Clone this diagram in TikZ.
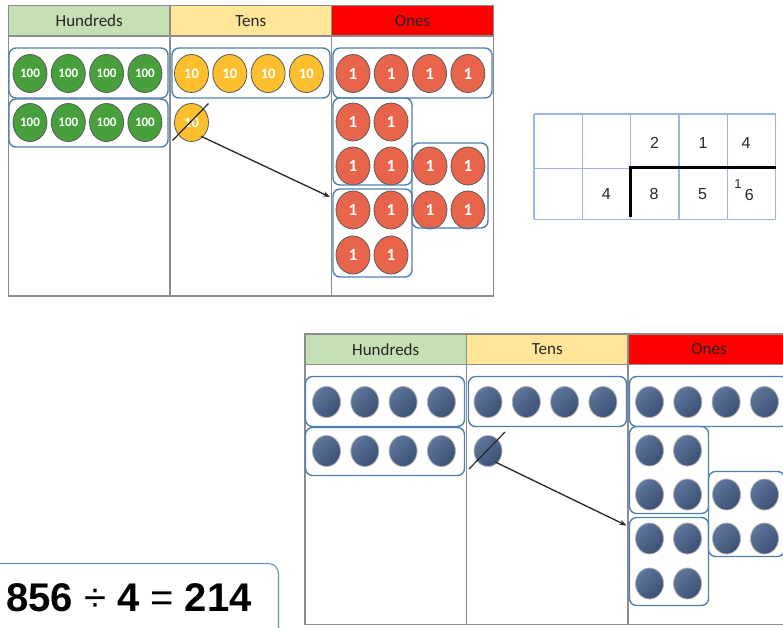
\documentclass[tikz,border=0pt]{standalone}
\usepackage{fontspec}
\setmainfont{Carlito}
\newfontfamily\digitfont{Liberation Sans}
\usetikzlibrary{shapes.geometric,arrows.meta}

\definecolor{headgreen}{HTML}{C5E0B4}
\definecolor{headyellow}{HTML}{FFE699}
\definecolor{headred}{HTML}{FF0000}
\definecolor{coingreen}{HTML}{47A03C}
\definecolor{coinyellow}{HTML}{FDBF2D}
\definecolor{coinred}{HTML}{E8654C}
\definecolor{disclight}{HTML}{5E769C}
\definecolor{discdark}{HTML}{3B5074}
\definecolor{groupblue}{HTML}{4F7FAF}
\definecolor{gridblue}{HTML}{9DB5E3}

\tikzset{
  chartrule/.style={draw=black!45, line width=1.2pt},
  headcell/.style={draw=black!45, line width=1.2pt, minimum width=161.5pt,
    minimum height=30.5pt, inner sep=0pt, text=black!85, font=\fontsize{17}{18}\selectfont},
  grpbox/.style={draw=groupblue, line width=1.4pt, rounded corners=7pt},
  coin/.style={ellipse, draw=black!65, line width=0.8pt, inner sep=0pt,
    minimum width=34pt, minimum height=38pt, text=white},
  disc/.style={ellipse, draw=black!30, line width=0.8pt, inner sep=0pt,
    minimum width=28pt, minimum height=31pt, top color=disclight,
    bottom color=discdark, shading angle=45, node contents={}},
  h100/.style={coin, fill=coingreen, font=\bfseries\fontsize{13}{13}\selectfont, node contents=100},
  t10/.style={coin, fill=coinyellow, font=\bfseries\fontsize{14.5}{14}\selectfont, node contents=10},
  o1/.style={coin, fill=coinred, font=\bfseries\fontsize{17}{17}\selectfont, node contents=1},
  strike/.style={line width=1.2pt, black!85},
  move/.style={line width=1.3pt, black!85, -{Stealth[length=7pt,width=5pt]}},
  gridline/.style={draw=gridblue, line width=1.3pt},
  numtext/.style={inner sep=0pt, font=\digitfont\fontsize{16}{16}\selectfont, text=black!85},
}

% one place value chart: 856 shared into 4 equal groups
\newcommand{\pvchart}[1]{%
  \foreach \name/\col/\x [count=\c] in {Hundreds/headgreen/89.25, Tens/headyellow/250.75, Ones/headred/412.5}
    \node[headcell, fill=\col] (#1head\c) at (\x,20.75) {\name};
  \draw[chartrule] (8.5,5.5) rectangle (493.5,296);
  \foreach \x in {170,331.5} \draw[chartrule] (\x,36) -- (\x,296);
  % counters
  \foreach \x [count=\i] in {30,68.3,106.6,144.9} {
    \node (#1ha\i) at (\x,73.5) [h100];
    \node (#1hb\i) at (\x,122.5) [h100];
    \node (#1ta\i) at (\x+161.5,73.5) [t10];
    \node (#1oa\i) at (\x+323,73.5) [o1];
  }
  \node (#1tx) at (191.5,122.5) [t10];
  \foreach \x/\y [count=\k] in {353/122,391/122,353/166,391/166,
      430/166,468/166,430/210,468/210,
      353/210,391/210,353/255,391/255}
    \node (#1ob\k) at (\x,\y) [o1];
  % groups of four
  \draw[grpbox] (9,48) rectangle (168,98);
  \draw[grpbox] (9,99) rectangle (168,147);
  \draw[grpbox] (172,48) rectangle (330,98);
  \draw[grpbox] (333,48) rectangle (492,98);
  \draw[grpbox] (333,98) rectangle (412,185);
  \draw[grpbox] (412,143) rectangle (488,228);
  \draw[grpbox] (333,189) rectangle (412,277);
  % exchange one ten for ten ones
  \draw[strike] ([shift={(-19,18)}]#1tx.center) -- ([shift={(17,-19)}]#1tx.center);
  \coordinate (#1into) at (330,197);
  \draw[move, shorten <=-2pt] (#1tx.-52) -- (#1into);
}

\begin{document}
\begin{tikzpicture}[x=1pt, y=-1pt]
\useasboundingbox (0,0) rectangle (783,627);
\clip (0,0) rectangle (783,627);

\pvchart{a}
\begin{scope}[shift={(296.5,328.5)}, h100/.style={disc}, t10/.style={disc}, o1/.style={disc}]
\pvchart{b}
\end{scope}

% short division
\foreach \i in {0,...,5} \draw[gridline] (534+48.35*\i,114) -- (534+48.35*\i,219.3);
\foreach \y in {114,168.3,219.3} \draw[gridline] (534,\y) -- (775.7,\y);
\draw[line width=2.6pt] (630.7,216.5) -- (630.7,167.7) -- (775.7,167.7);
\node[numtext] (q2) at (654.6,142.5) {2};
\node[numtext] (q1) at (703,142.5) {1};
\node[numtext] (q4) at (746,142.5) {4};
\node[numtext] (dv) at (606.3,194) {4};
\node[numtext] (n8) at (654,194) {8};
\node[numtext] (n5) at (702.6,194) {5};
\node[numtext, font=\digitfont\fontsize{13}{13}\selectfont] (c1) at (738,184) {1};
\node[numtext] (n6) at (749.3,194.5) {6};

% answer
\draw[draw=groupblue!85, line width=1.1pt, rounded corners=10pt] (-20,563.5) rectangle (278.5,660);
\node[anchor=west, inner sep=0pt, font=\digitfont\bfseries\fontsize{40}{40}\selectfont] (sum) at (6,598)
  {856 {\mdseries÷} 4 {\mdseries=} 214};
\end{tikzpicture}
\end{document}
